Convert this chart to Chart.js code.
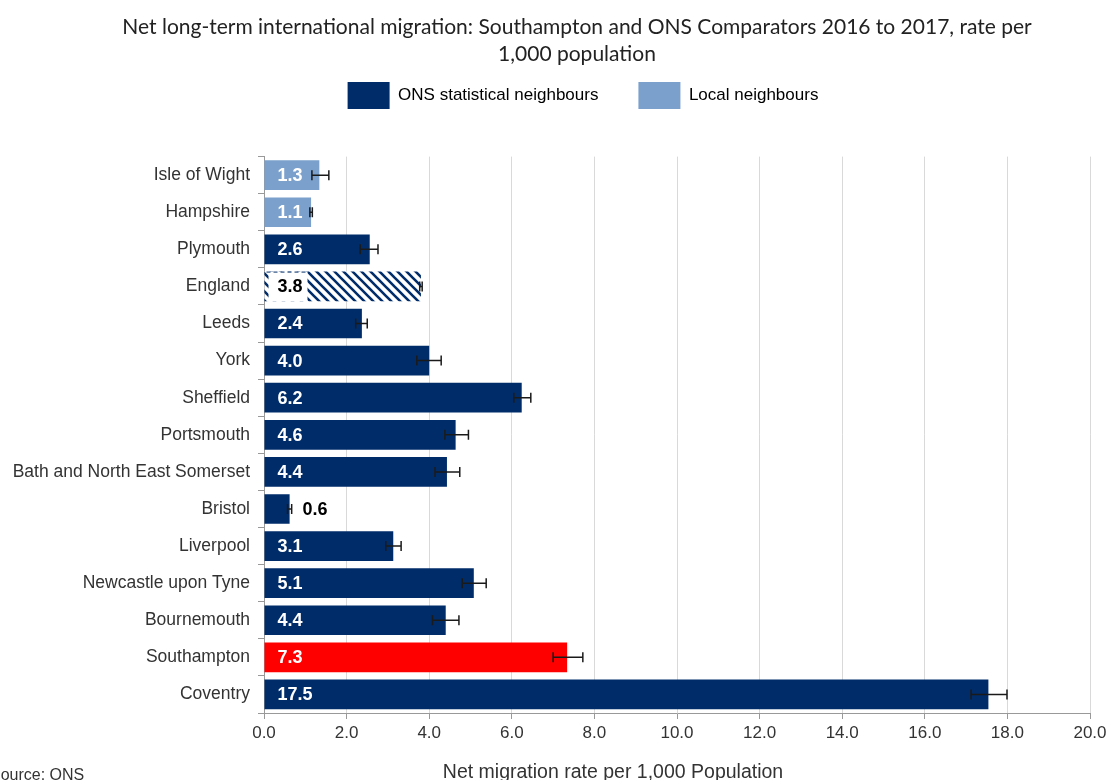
<!DOCTYPE html>
<html>
<head>
<meta charset="utf-8">
<script src="https://cdn.jsdelivr.net/npm/chart.js@4"></script>
<style>
  html, body { margin: 0; padding: 0; background: #fff; }
  #wrap { width: 1115px; height: 780px; }
</style>
</head>
<body>
<div id="wrap"><canvas id="chart"></canvas></div>
<script>
const areas = ['Isle of Wight', 'Hampshire', 'Plymouth', 'England', 'Leeds', 'York', 'Sheffield',
  'Portsmouth', 'Bath and North East Somerset', 'Bristol', 'Liverpool', 'Newcastle upon Tyne',
  'Bournemouth', 'Southampton', 'Coventry'];
const rates = [1.34, 1.14, 2.56, 3.8, 2.37, 4.0, 6.24, 4.64, 4.43, 0.62, 3.13, 5.08, 4.4, 7.34, 17.54];
const rateLabels = ['1.3', '1.1', '2.6', '3.8', '2.4', '4.0', '6.2', '4.6', '4.4', '0.6', '3.1', '5.1', '4.4', '7.3', '17.5'];
const errLow = [1.16, 1.11, 2.33, 3.77, 2.22, 3.7, 6.05, 4.38, 4.14, 0.57, 2.95, 4.8, 4.08, 7.0, 17.12];
const errHigh = [1.57, 1.17, 2.76, 3.83, 2.5, 4.29, 6.46, 4.95, 4.74, 0.67, 3.32, 5.38, 4.72, 7.72, 17.99];
const groups = ['local', 'local', 'ons', 'england', 'ons', 'ons', 'ons', 'ons', 'ons', 'ons', 'ons', 'ons', 'ons', 'southampton', 'ons'];
const xTickLabels = ['0.0', '2.0', '4.0', '6.0', '8.0', '10.0', '12.0', '14.0', '16.0', '18.0', '20.0'];
const legendNames = ['ONS statistical neighbours', 'Local neighbours'];

const navy = '#002D6A';
const lightBlue = '#7BA0CC';
const red = '#FF0000';
const sans = "'Liberation Sans', Arial, sans-serif";

// diagonal hatch for England
function makeHatch() {
  const s = 9;
  const p = document.createElement('canvas');
  p.width = s; p.height = s;
  const c = p.getContext('2d');
  c.fillStyle = '#fff';
  c.fillRect(0, 0, s, s);
  c.strokeStyle = navy;
  c.lineWidth = 2.6;
  c.beginPath();
  c.moveTo(-2, -2); c.lineTo(s + 2, s + 2);
  c.moveTo(-2, s - 2); c.lineTo(2, s + 2);
  c.moveTo(s - 2, -2); c.lineTo(s + 2, 2);
  c.stroke();
  return c.createPattern(p, 'repeat');
}
const hatch = makeHatch();

const colourFor = { local: lightBlue, ons: navy, england: hatch, southampton: red };
const barColours = groups.map(g => colourFor[g]);

// extra room under the legend, and header nudged right like the original
const headerLayout = {
  id: 'headerLayout',
  beforeInit(chart) {
    if (!chart.legend) return;
    const fit = chart.legend.fit;
    chart.legend.fit = function () {
      fit.call(this);
      this.height += 37.5;
    };
  },
  afterLayout(chart) {
    if (chart.titleBlock) {
      chart.titleBlock.left += 32;
      chart.titleBlock.right += 32;
    }
    if (chart.legend) {
      chart.legend.left += 38;
      chart.legend.right += 38;
    }
  }
};

const errorBars = {
  id: 'errorBars',
  afterDatasetsDraw(chart) {
    const ctx = chart.ctx;
    const x = chart.scales.x;
    const meta = chart.getDatasetMeta(0);
    ctx.save();
    ctx.strokeStyle = '#1a1a1a';
    ctx.lineWidth = 1.5;
    meta.data.forEach((bar, i) => {
      const x1 = x.getPixelForValue(errLow[i]);
      const x2 = x.getPixelForValue(errHigh[i]);
      const y = bar.y;
      ctx.beginPath();
      ctx.moveTo(x1, y); ctx.lineTo(x2, y);
      ctx.moveTo(x1, y - 5); ctx.lineTo(x1, y + 5);
      ctx.moveTo(x2, y - 5); ctx.lineTo(x2, y + 5);
      ctx.stroke();
    });
    ctx.restore();
  }
};

const valueLabels = {
  id: 'valueLabels',
  afterDatasetsDraw(chart) {
    const ctx = chart.ctx;
    const meta = chart.getDatasetMeta(0);
    ctx.save();
    ctx.font = 'bold 18px ' + sans;
    ctx.textBaseline = 'middle';
    ctx.textAlign = 'left';
    meta.data.forEach((bar, i) => {
      const width = bar.x - bar.base;
      if (groups[i] === 'england') {
        const top = bar.y - bar.height / 2;
        ctx.fillStyle = '#fff';
        ctx.fillRect(bar.base + 4, top, 39, bar.height);
        ctx.strokeStyle = navy;
        ctx.lineWidth = 1;
        ctx.setLineDash([4, 3]);
        ctx.beginPath();
        ctx.moveTo(bar.base + 2, top + 0.5);
        ctx.lineTo(bar.base + 43, top + 0.5);
        ctx.stroke();
        ctx.setLineDash([]);
        ctx.fillStyle = '#000';
        ctx.fillText(rateLabels[i], bar.base + 13, bar.y + 1);
      } else if (width < 40) {
        ctx.fillStyle = '#000';
        ctx.fillText(rateLabels[i], bar.x + 13, bar.y + 1);
      } else {
        ctx.fillStyle = '#fff';
        ctx.fillText(rateLabels[i], bar.base + 13, bar.y + 1);
      }
    });
    ctx.restore();
  }
};

const extraText = {
  id: 'extraText',
  afterDraw(chart) {
    const ctx = chart.ctx;
    ctx.save();
    ctx.fillStyle = '#333';
    ctx.font = '19.5px ' + sans;
    ctx.textAlign = 'center';
    ctx.textBaseline = 'alphabetic';
    ctx.fillText('Net migration rate per 1,000 Population', 613, 778);
    ctx.textAlign = 'left';
    ctx.font = '16px ' + sans;
    ctx.fillText('Source: ONS', -10, 780);
    ctx.restore();
  }
};

new Chart(document.getElementById('chart'), {
  type: 'bar',
  data: {
    labels: areas,
    datasets: [{
      data: rates,
      backgroundColor: barColours,
      borderWidth: 0,
      barPercentage: 0.8,
      categoryPercentage: 1
    }]
  },
  options: {
    indexAxis: 'y',
    responsive: true,
    maintainAspectRatio: false,
    animation: false,
    layout: { padding: { left: 0, right: 25, top: 0, bottom: 0 } },
    plugins: {
      title: {
        display: true,
        text: ['Net long-term international migration: Southampton and ONS Comparators 2016 to 2017, rate per', '1,000 population'],
        color: '#222',
        font: { family: 'Lato', size: 21, weight: 'normal', lineHeight: 1.3 },
        padding: { top: 13.5, bottom: -26 }
      },
      legend: {
        display: true,
        labels: {
          boxWidth: 42,
          boxHeight: 27,
          padding: 40,
          color: '#222',
          font: { family: sans, size: 17 },
          generateLabels: () => [
            { text: legendNames[0], fillStyle: navy, strokeStyle: navy, lineWidth: 0, hidden: false, datasetIndex: 0 },
            { text: legendNames[1], fillStyle: lightBlue, strokeStyle: lightBlue, lineWidth: 0, hidden: false, datasetIndex: 0 }
          ]
        },
        onClick: () => {}
      },
      tooltip: { enabled: false }
    },
    scales: {
      x: {
        min: 0,
        max: 20,
        ticks: {
          stepSize: 2,
          color: '#333',
          padding: 4,
          font: { family: sans, size: 17 },
          callback: (v, i) => xTickLabels[i]
        },
        grid: { color: '#d9d9d9', tickColor: '#999', tickLength: 6 },
        border: { color: '#999' },
        afterFit: s => { s.height = 67; }
      },
      y: {
        ticks: {
          color: '#333',
          padding: 8,
          font: { family: sans, size: 17.5 }
        },
        grid: { drawOnChartArea: false, offset: true, color: '#999', tickLength: 6 },
        border: { color: '#999' },
        afterFit: s => { s.width = 264; }
      }
    }
  },
  plugins: [headerLayout, errorBars, valueLabels, extraText]
});
</script>
</body>
</html>
